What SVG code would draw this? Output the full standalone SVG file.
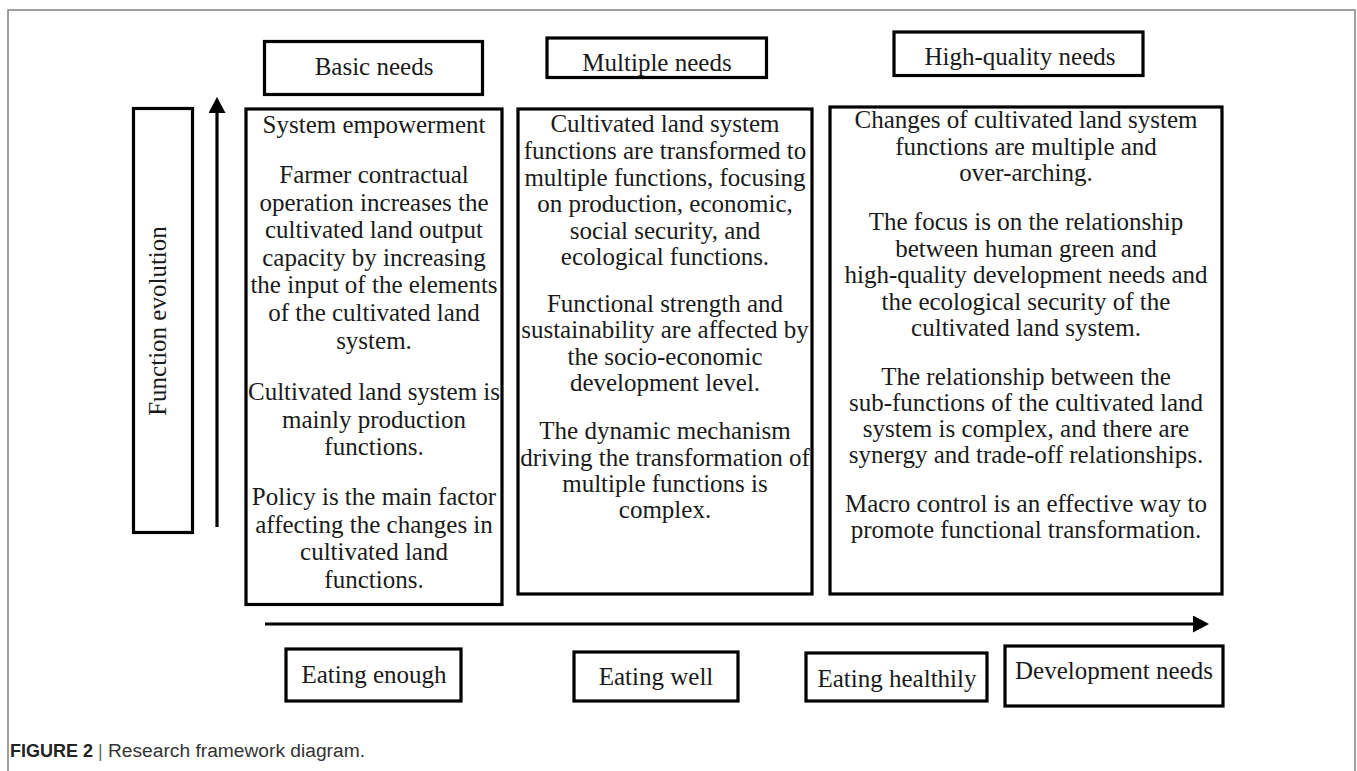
<svg xmlns="http://www.w3.org/2000/svg" width="1357" height="771" viewBox="0 0 1357 771">
<style>
.box{fill:#fff;stroke:#000;stroke-width:3.2}
.t{font-family:"Liberation Serif","Times New Roman",serif;font-size:25px;fill:#1a1a1a;text-anchor:middle}
.ln{stroke:#000;stroke-width:3.2;fill:none}
.cap{font-family:"Liberation Sans",Arial,sans-serif;font-size:18px;fill:#333}
</style>
<defs>
<marker id="ah" markerUnits="userSpaceOnUse" markerWidth="16" markerHeight="17" refX="0" refY="8.5" orient="auto" viewBox="0 0 16 17">
<path d="M0,0 L16,8.5 L0,17 z" fill="#000"/>
</marker>
</defs>
<rect x="8" y="10" width="1347" height="780" fill="#fff" stroke="#808080" stroke-width="1.5"/>

<g id="connectors">
<line class="ln" x1="217" y1="527" x2="217" y2="113" marker-end="url(#ah)"/>
<line class="ln" x1="265" y1="624" x2="1193" y2="624" marker-end="url(#ah)"/>
</g>

<g id="basic-needs">
<rect class="box" x="264.5" y="41.5" width="218" height="53"/>
<text class="t" x="374" y="75">Basic needs</text>
</g>
<g id="multiple-needs">
<rect class="box" x="547" y="38" width="219.5" height="39.5"/>
<text class="t" x="657" y="71">Multiple needs</text>
</g>
<g id="high-quality-needs">
<rect class="box" x="894" y="32" width="249" height="43.5"/>
<text class="t" x="1020" y="65">High-quality needs</text>
</g>

<g id="function-evolution">
<rect class="box" x="133.5" y="108.5" width="59" height="424"/>
<text class="t" transform="translate(166,321) rotate(-90)" x="0" y="0">Function evolution</text>
</g>

<g id="box-basic">
<rect class="box" x="246" y="109" width="256" height="495.5"/>
<text class="t" x="374" y="133">System empowerment</text>
<text class="t" x="374" y="183">Farmer contractual</text>
<text class="t" x="374" y="211">operation increases the</text>
<text class="t" x="374" y="238">cultivated land output</text>
<text class="t" x="374" y="266">capacity by increasing</text>
<text class="t" x="374" y="293">the input of the elements</text>
<text class="t" x="374" y="321">of the cultivated land</text>
<text class="t" x="374" y="349">system.</text>
<text class="t" x="374" y="400">Cultivated land system is</text>
<text class="t" x="374" y="428">mainly production</text>
<text class="t" x="374" y="455">functions.</text>
<text class="t" x="374" y="505">Policy is the main factor</text>
<text class="t" x="374" y="533">affecting the changes in</text>
<text class="t" x="374" y="560">cultivated land</text>
<text class="t" x="374" y="588">functions.</text>
</g>

<g id="box-multiple">
<rect class="box" x="518" y="109" width="294" height="485"/>
<text class="t" x="665" y="132">Cultivated land system</text>
<text class="t" x="665" y="159">functions are transformed to</text>
<text class="t" x="665" y="186">multiple functions, focusing</text>
<text class="t" x="665" y="212">on production, economic,</text>
<text class="t" x="665" y="239">social security, and</text>
<text class="t" x="665" y="265">ecological functions.</text>
<text class="t" x="665" y="312">Functional strength and</text>
<text class="t" x="665" y="338">sustainability are affected by</text>
<text class="t" x="665" y="365">the socio-economic</text>
<text class="t" x="665" y="391">development level.</text>
<text class="t" x="665" y="439">The dynamic mechanism</text>
<text class="t" x="665" y="466">driving the transformation of</text>
<text class="t" x="665" y="492">multiple functions is</text>
<text class="t" x="665" y="518">complex.</text>
</g>

<g id="box-high-quality">
<rect class="box" x="830" y="107" width="392" height="487"/>
<text class="t" x="1026" y="128">Changes of cultivated land system</text>
<text class="t" x="1026" y="155">functions are multiple and</text>
<text class="t" x="1026" y="181">over-arching.</text>
<text class="t" x="1026" y="230">The focus is on the relationship</text>
<text class="t" x="1026" y="257">between human green and</text>
<text class="t" x="1026" y="283">high-quality development needs and</text>
<text class="t" x="1026" y="310">the ecological security of the</text>
<text class="t" x="1026" y="336">cultivated land system.</text>
<text class="t" x="1026" y="385">The relationship between the</text>
<text class="t" x="1026" y="411">sub-functions of the cultivated land</text>
<text class="t" x="1026" y="437">system is complex, and there are</text>
<text class="t" x="1026" y="463">synergy and trade-off relationships.</text>
<text class="t" x="1026" y="512">Macro control is an effective way to</text>
<text class="t" x="1026" y="538">promote functional transformation.</text>
</g>

<g id="eating-enough">
<rect class="box" x="286" y="649" width="175" height="52"/>
<text class="t" x="374" y="683">Eating enough</text>
</g>
<g id="eating-well">
<rect class="box" x="574" y="652" width="164" height="49"/>
<text class="t" x="656" y="685">Eating well</text>
</g>
<g id="eating-healthily">
<rect class="box" x="806" y="653" width="181" height="48"/>
<text class="t" x="897" y="687">Eating healthily</text>
</g>
<g id="development-needs">
<rect class="box" x="1005" y="646" width="218" height="60"/>
<text class="t" x="1114" y="679">Development needs</text>
</g>

<text class="cap" x="10" y="757"><tspan font-weight="bold" fill="#222">FIGURE 2</tspan><tspan fill="#666"> | </tspan><tspan x="108" textLength="257" lengthAdjust="spacingAndGlyphs">Research framework diagram.</tspan></text>
</svg>
